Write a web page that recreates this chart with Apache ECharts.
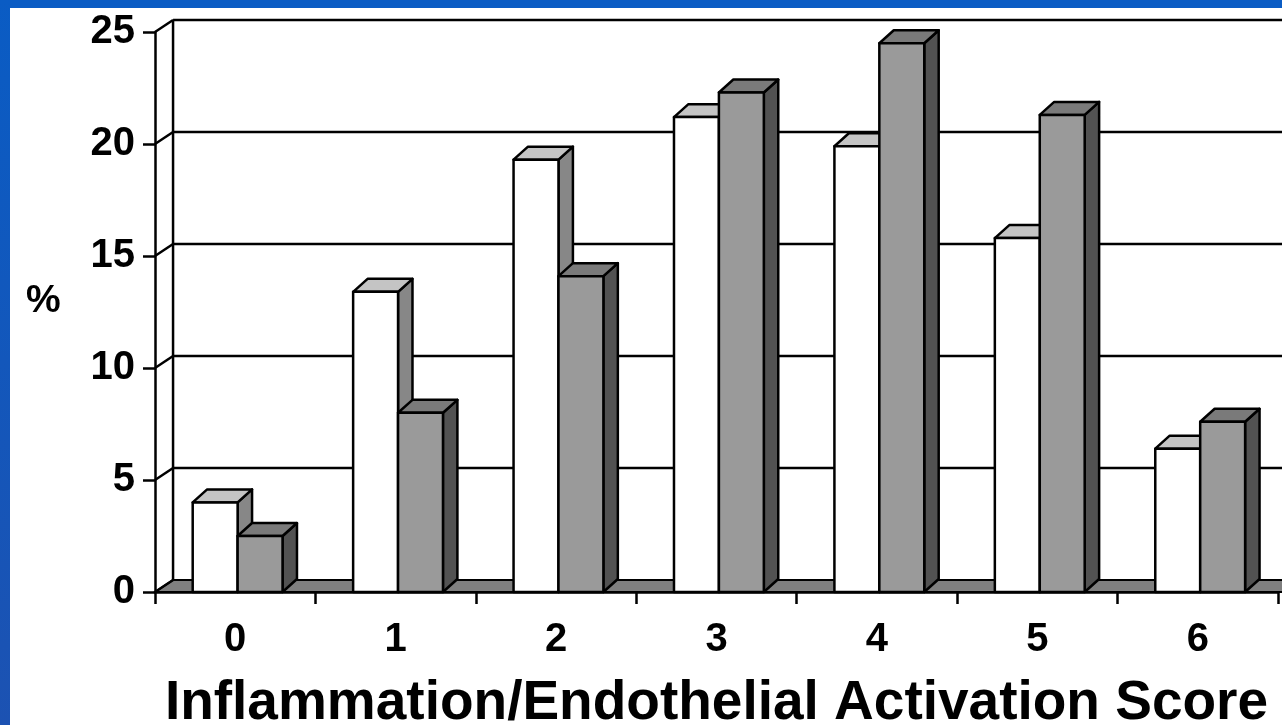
<!DOCTYPE html>
<html>
<head>
<meta charset="utf-8">
<script src="https://cdn.jsdelivr.net/npm/echarts@6/dist/echarts.min.js"></script>
<style>
  html, body { margin: 0; padding: 0; background: #ffffff; }
  #chart { width: 1282px; height: 725px; }
</style>
</head>
<body>
<div id="chart"></div>
<script>
// ---- data ----
const categories = ['0', '1', '2', '3', '4', '5', '6'];
const whiteValues = [4.0, 13.4, 19.3, 21.2, 19.9, 15.8, 6.4];
const grayValues = [2.5, 8.0, 14.1, 22.3, 24.5, 21.3, 7.6];
const yTicks = [0, 5, 10, 15, 20, 25];
const yMax = 25;
const yStep = 5;
const xTitle = 'Inflammation/Endothelial Activation Score';
const yTitle = '%';

const FONT = '"Liberation Sans", Arial, sans-serif';
const STROKE = '#000000';

function wallRenderer(params, api) {
  const v = api.value(1);
  const band = api.size([1, 0])[0];
  const unit = api.size([0, 1])[1];
  const dx = band * 0.1125;
  const dy = unit * 0.535;
  const p = api.coord([0, v]);
  const left = p[0] - band / 2;
  const right = api.coord([categories.length - 1, v])[0] + band / 2;
  const y = p[1];
  const children = [];
  if (v === 0) {
    const topY = api.coord([0, yMax])[1];
    children.push({
      type: 'polygon',
      shape: { points: [[left, y], [right + 40, y], [right + 40 + dx, y - dy], [left + dx, y - dy]] },
      style: { fill: '#7f7f7f', stroke: STROKE, lineWidth: 2 }
    });
    children.push({
      type: 'line',
      shape: { x1: left + dx, y1: y - dy, x2: left + dx, y2: topY - dy },
      style: { stroke: STROKE, lineWidth: 2.5 }
    });
  } else {
    children.push({
      type: 'line',
      shape: { x1: left + dx, y1: y - dy, x2: right + dx + 40, y2: y - dy },
      style: { stroke: STROKE, lineWidth: 2.5 }
    });
  }
  children.push({
    type: 'line',
    shape: { x1: left, y1: y, x2: left + dx, y2: y - dy },
    style: { stroke: STROKE, lineWidth: 2.5 }
  });
  return { type: 'group', children: children };
}

function makeBarRenderer(startFrac, widthFrac, front, top, side) {
  return function (params, api) {
    const idx = api.value(0);
    const v = api.value(1);
    const band = api.size([1, 0])[0];
    const unit = api.size([0, 1])[1];
    const c = api.coord([idx, 0]);
    const t = api.coord([idx, v]);
    const x0 = c[0] + startFrac * band;
    const x1 = x0 + widthFrac * band;
    const yb = c[1];
    const yt = t[1];
    const dx = band * 0.09;
    const dy = unit * 0.58;
    const st = { stroke: STROKE, lineWidth: 2.5, lineJoin: 'round' };
    return {
      type: 'group',
      children: [
        {
          type: 'polygon',
          shape: { points: [[x1, yb], [x1, yt], [x1 + dx, yt - dy], [x1 + dx, yb - dy]] },
          style: Object.assign({ fill: side }, st)
        },
        {
          type: 'polygon',
          shape: { points: [[x0, yt], [x1, yt], [x1 + dx, yt - dy], [x0 + dx, yt - dy]] },
          style: Object.assign({ fill: top }, st)
        },
        {
          type: 'rect',
          shape: { x: x0, y: yt, width: x1 - x0, height: yb - yt },
          style: Object.assign({ fill: front }, st)
        }
      ]
    };
  };
}

const chart = echarts.init(document.getElementById('chart'), null, { renderer: 'canvas' });
chart.setOption({
  backgroundColor: '#ffffff',
  animation: false,
  graphic: [
    { type: 'rect', left: 0, top: 0, shape: { width: 1282, height: 8 }, style: { fill: '#0a5cc4' }, z: 100 },
    {
      type: 'rect', left: 0, top: 0, shape: { width: 10, height: 725 },
      style: { fill: new echarts.graphic.LinearGradient(0, 0, 0, 1, [
        { offset: 0, color: '#0a5cc4' }, { offset: 1, color: '#1c52b2' }
      ]) }, z: 100
    },
    {
      type: 'text', left: 26, top: 282,
      style: { text: yTitle, font: 'bold 39px ' + FONT, fill: '#000' }
    }
  ],
  grid: { left: 155, right: 4, top: 32, bottom: 133, containLabel: false, outerBoundsMode: 'none' },
  xAxis: {
    type: 'category',
    data: categories,
    boundaryGap: true,
    axisLine: { show: true, lineStyle: { color: STROKE, width: 2.5 } },
    axisTick: { show: true, length: 12, lineStyle: { color: STROKE, width: 2.5 } },
    axisLabel: { color: '#000', fontSize: 40, fontWeight: 'bold', fontFamily: FONT, margin: 28 },
    name: xTitle,
    nameLocation: 'middle',
    nameGap: 84,
    nameTextStyle: { color: '#000', fontSize: 55, fontWeight: 'bold', fontFamily: FONT },
    splitLine: { show: false }
  },
  yAxis: {
    type: 'value',
    min: 0,
    max: yMax,
    interval: yStep,
    axisLine: { show: true, lineStyle: { color: STROKE, width: 2.5 } },
    axisTick: { show: true, length: 12, lineStyle: { color: STROKE, width: 2.5 } },
    axisLabel: { color: '#000', fontSize: 40, fontWeight: 'bold', fontFamily: FONT, margin: 20 },
    splitLine: { show: false }
  },
  series: [
    {
      type: 'custom',
      name: 'wall',
      renderItem: wallRenderer,
      data: yTicks.map(v => [0, v]),
      encode: { x: 0, y: 1 },
      silent: true,
      z: 1
    },
    {
      type: 'custom',
      name: 'white',
      renderItem: makeBarRenderer(-0.265, 0.28, '#ffffff', '#c4c4c4', '#878787'),
      data: whiteValues.map((v, i) => [i, v]),
      encode: { x: 0, y: 1 },
      z: 2
    },
    {
      type: 'custom',
      name: 'gray',
      renderItem: makeBarRenderer(0.015, 0.28, '#9a9a9a', '#7a7a7a', '#525252'),
      data: grayValues.map((v, i) => [i, v]),
      encode: { x: 0, y: 1 },
      z: 3
    }
  ]
});
</script>
</body>
</html>
